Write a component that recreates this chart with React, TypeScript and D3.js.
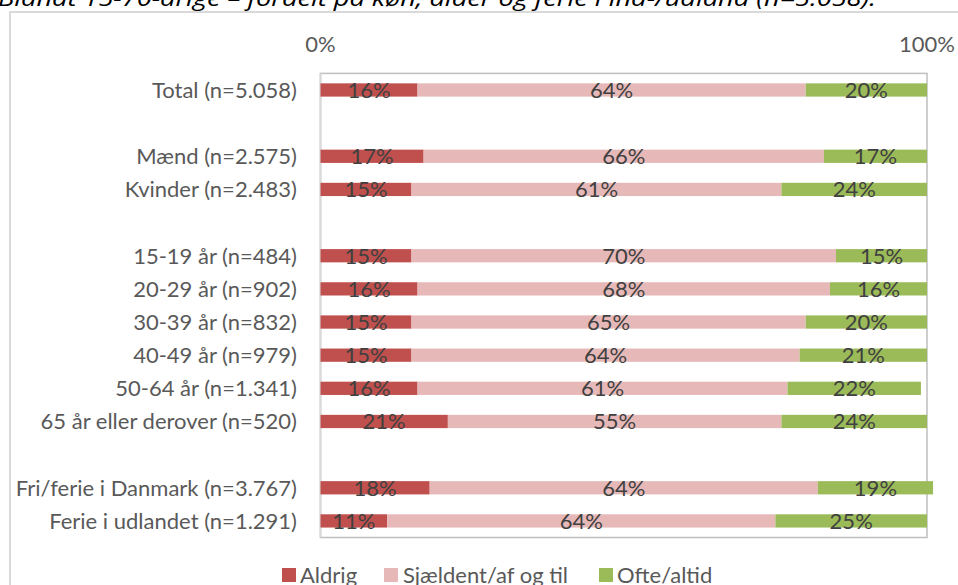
import React from "react";
import * as d3 from "d3";

const categories = [
  "Total (n=5.058)",
  "",
  "Mænd (n=2.575)",
  "Kvinder (n=2.483)",
  " ",
  "15-19 år (n=484)",
  "20-29 år (n=902)",
  "30-39 år (n=832)",
  "40-49 år (n=979)",
  "50-64 år (n=1.341)",
  "65 år eller derover (n=520)",
  "  ",
  "Fri/ferie i Danmark (n=3.767)",
  "Ferie i udlandet (n=1.291)",
];
const aldrig = [16, null, 17, 15, null, 15, 16, 15, 15, 16, 21, null, 18, 11];
const sjaeldent = [64, null, 66, 61, null, 70, 68, 65, 64, 61, 55, null, 64, 64];
const ofte = [20, null, 17, 24, null, 15, 16, 20, 21, 22, 24, null, 19, 25];
const seriesNames = ["Aldrig", "Sjældent/af og til", "Ofte/altid"];
const seriesColors = ["#c0504d", "#e6b9b8", "#9bbb59"];
const tickValues = [0, 100];
const title = "Blandt 15-70-årige – fordelt på køn, alder og ferie i ind-/udland (n=5.058).";

const W = 958;
const H = 585;
const FONT = "Lato, sans-serif";
const FS = 22;

export default function App() {
  const x = d3.scaleLinear().domain([0, 100]).range([320.5, 927]);
  const y = d3.scaleBand<string>().domain(categories).range([73.4, 537.5]).paddingInner(0.6).paddingOuter(0.3);
  const series = [aldrig, sjaeldent, ofte];
  const bw = y.bandwidth();

  const bars: React.ReactNode[] = [];
  const labels: React.ReactNode[] = [];
  categories.forEach((c, i) => {
    let acc = 0;
    series.forEach((s, k) => {
      const v = s[i];
      if (v == null) return;
      const x0 = x(acc);
      const x1 = x(acc + v);
      bars.push(
        <rect key={`b${i}-${k}`} x={x0} y={y(c)!} width={x1 - x0} height={bw} fill={seriesColors[k]} />
      );
      labels.push(
        <text key={`l${i}-${k}`} x={(x0 + x1) / 2} y={y(c)! + bw / 2} dy="0.36em" textAnchor="middle"
          fontSize={FS} fill="#404040" fontFamily={FONT}>{`${v}%`}</text>
      );
      acc += v;
    });
  });

  const legendItems = [
    { sx: 282, tx: 300 },
    { sx: 384, tx: 403 },
    { sx: 599, tx: 617 },
  ];

  return (
    <div style={{ position: "absolute", left: 0, top: 0, width: W, height: H, overflow: "hidden", background: "#fff" }}>
      <svg width={W} height={H} style={{ display: "block" }}>
        <rect x={0} y={0} width={W} height={H} fill="#fff" />
        <text x={-2} y={6} fontSize={21} fontStyle="italic" fill="#000" fontFamily="'Open Sans', sans-serif" textLength={878} lengthAdjust="spacingAndGlyphs">{title}</text>
        <rect x={10} y={12} width={W + 10} height={H + 10} fill="none" stroke="#d9d9d9" strokeWidth={2} />
        {tickValues.map((t) => (
          <text key={t} x={x(t)} y={44} dy="0.36em" textAnchor="middle" fontSize={FS} fill="#595959" fontFamily={FONT}>{`${t}%`}</text>
        ))}
        <rect x={x(0)} y={73.4} width={x(100) - x(0)} height={537.5 - 73.4} fill="none" stroke="#bfbfbf" strokeWidth={1.5} />
        <line x1={x(0)} x2={x(0)} y1={73.4} y2={537.5} stroke="#d9d9d9" strokeWidth={2} />
        {bars}
        {labels}
        {categories.map((c) => (
          <text key={c} x={297} y={y(c)! + bw / 2} dy="0.36em" textAnchor="end" fontSize={FS} fill="#595959" fontFamily={FONT}>{c.trim()}</text>
        ))}
        {seriesNames.map((n, k) => (
          <g key={n}>
            <rect x={legendItems[k].sx} y={568} width={14} height={14} fill={seriesColors[k]} />
            <text x={legendItems[k].tx} y={575} dy="0.36em" fontSize={FS} fill="#595959" fontFamily={FONT}>{n}</text>
          </g>
        ))}
      </svg>
    </div>
  );
}
